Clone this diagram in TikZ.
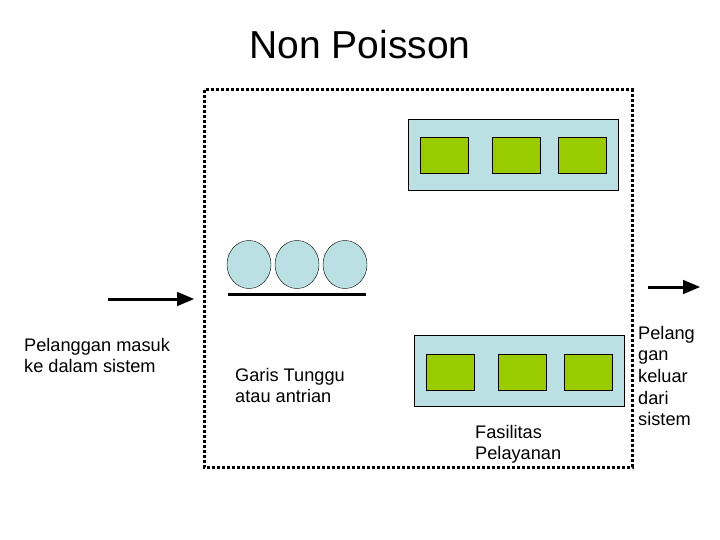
\documentclass[tikz,border=0pt]{standalone}
\usepackage{fontspec}
\setmainfont{Liberation Sans}
\usetikzlibrary{arrows,calc,shapes.geometric}
\definecolor{antri}{RGB}{187,224,227}
\definecolor{layan}{RGB}{153,204,0}

\tikzset{
  server/.style={draw=black,line width=1pt,fill=layan,minimum width=48pt,minimum height=36pt,inner sep=0pt},
  fasilitas/.style={draw=black,line width=1pt,fill=antri,minimum width=210pt,minimum height=71pt,inner sep=0pt},
  pelanggan/.style={draw=black,fill=antri,ellipse,minimum width=44pt,minimum height=48pt,inner sep=0pt},
  label/.style={font=\fontsize{18.2}{21.6}\selectfont,align=left,anchor=north west,inner sep=0pt},
  alur/.style={line width=3pt,-triangle 45}
}

\begin{document}
\begin{tikzpicture}[x=1pt,y=-1pt]
\useasboundingbox (0,0) rectangle (720,540);

\node[font=\fontsize{39}{44}\selectfont,anchor=base,inner sep=0pt] (judul) at (360,59) {Non Poisson};

% sistem
\draw[line width=3pt,dash pattern=on 3pt off 2pt] (204,90) rectangle (632,467);

% fasilitas pelayanan
\node[fasilitas] (F1) at (513,155.5) {};
\node[fasilitas] (F2) at (519,371) {};
\foreach \x/\n in {444/1,516/2,582/3}{
  \node[server] (S1\n) at (\x,156) {};
}
\foreach \x/\n in {450/1,522/2,588/3}{
  \node[server] (S2\n) at (\x,372) {};
}

% garis tunggu
\foreach \x/\n in {249/1,297/2,345/3}{
  \node[pelanggan] (P\n) at (\x,264.5) {};
}
\coordinate (G1) at (228,294);
\coordinate (G2) at (366,294);
\draw[line width=3pt] (G1) -- (G2);

% arus masuk dan keluar
\coordinate (M1) at (108,299);
\coordinate (M2) at (194,299);
\draw[alur] (M1) -- (M2);
\coordinate (K1) at (648,287);
\coordinate (K2) at (700,287);
\draw[alur] (K1) -- (K2);

% keterangan
\node[label] (masuk) at (24,338) {Pelanggan masuk\\ke dalam sistem};
\node[label] (garis) at (235,368) {Garis Tunggu\\atau antrian};
\node[label] (fas) at (475,425) {Fasilitas\\Pelayanan};
\node[label] (keluar) at (638,326) {Pelang\\gan\\keluar\\dari\\sistem};

\end{tikzpicture}
\end{document}
